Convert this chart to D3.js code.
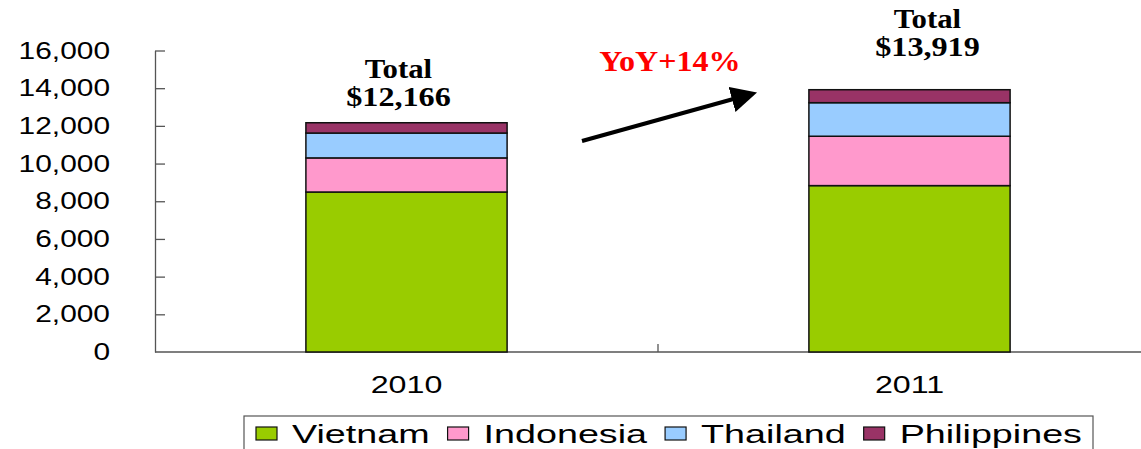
<!DOCTYPE html>
<html>
<head>
<meta charset="utf-8">
<script src="https://cdn.jsdelivr.net/npm/d3@7"></script>
<style>
  body { margin: 0; background: #fff; }
  svg { display: block; }
</style>
</head>
<body>
<div id="chart"></div>
<script>
const years = ["2010", "2011"];
const countries = ["Vietnam", "Indonesia", "Thailand", "Philippines"];
const vietnam = [8490, 8830];
const indonesia = [1810, 2620];
const thailand = [1320, 1780];
const philippines = [546, 689];
const totals = [12166, 13919];
const yTicks = [0, 2000, 4000, 6000, 8000, 10000, 12000, 14000, 16000];
const growthLabel = "YoY+14%";

const colors = ["#99CC00", "#FF99CC", "#99CCFF", "#993366"];

const W = 1141, H = 449;
const svg = d3.select("#chart").append("svg")
    .attr("width", W)
    .attr("height", H);

// rows for the stack
const rows = years.map((y, i) => ({
    year: y,
    Vietnam: vietnam[i],
    Indonesia: indonesia[i],
    Thailand: thailand[i],
    Philippines: philippines[i]
}));
const series = d3.stack().keys(countries)(rows);

// Scales
const x = d3.scaleBand()
    .domain(years)
    .range([155, 1161])
    .paddingInner(0.6)
    .paddingOuter(0.3);

const y = d3.scaleLinear()
    .domain([0, 16000])
    .range([352, 50.5]);

// text with horizontal stretch (the original picture is widened)
function wideText(parent, px, py, str, opts) {
    const g = parent.append("g")
        .attr("transform", `translate(${px},${py}) scale(${opts.sx},1)`);
    const t = g.append("text")
        .attr("text-anchor", opts.anchor || "start")
        .style("font-family", opts.family)
        .style("font-size", opts.size + "px")
        .style("font-weight", opts.weight || "normal")
        .attr("fill", opts.fill || "#000")
        .text(str);
    return t;
}

const sansFont = "Liberation Sans, Arial, sans-serif";
const serifFont = "Liberation Serif, Times New Roman, serif";

// Y axis
const yAxis = svg.append("g")
    .attr("transform", "translate(155,0)")
    .call(d3.axisRight(y).tickValues(yTicks).tickSize(10).tickSizeOuter(0).tickFormat(""));
yAxis.selectAll("path, line").attr("stroke", "#555").attr("stroke-width", 1.3);
yAxis.selectAll(".tick").filter(d => d === 0).remove();

yTicks.forEach(v => {
    wideText(svg, 110, y(v) + 8, d3.format(",")(v), {
        sx: 1.3, size: 23, family: sansFont, anchor: "end"
    });
});

// X axis line and middle tick
svg.append("line")
    .attr("x1", 155).attr("x2", W)
    .attr("y1", y(0)).attr("y2", y(0))
    .attr("stroke", "#555").attr("stroke-width", 1.3);
svg.append("line")
    .attr("x1", x.step() + 155).attr("x2", x.step() + 155)
    .attr("y1", y(0) - 8).attr("y2", y(0))
    .attr("stroke", "#555").attr("stroke-width", 1.3);

years.forEach(yr => {
    wideText(svg, x(yr) + x.bandwidth() / 2, 393, yr, {
        sx: 1.4, size: 23, family: sansFont, anchor: "middle"
    });
});

// Bars
const layers = svg.append("g").selectAll("g")
    .data(series)
    .join("g")
    .attr("fill", (d, i) => colors[i]);

layers.selectAll("rect")
    .data(d => d)
    .join("rect")
    .attr("x", d => x(d.data.year))
    .attr("y", d => y(d[1]))
    .attr("width", x.bandwidth())
    .attr("height", d => y(d[0]) - y(d[1]))
    .attr("stroke", "#111")
    .attr("stroke-width", 1.5);

// Total labels
const labelShift = [-8, 18];
const labelTop = [78, 28];
years.forEach((yr, i) => {
    const cx = x(yr) + x.bandwidth() / 2 + labelShift[i];
    wideText(svg, cx, labelTop[i], "Total", {
        sx: 1.1, size: 28, family: serifFont, weight: "bold", anchor: "middle"
    });
    wideText(svg, cx, labelTop[i] + 28, "$" + d3.format(",")(totals[i]), {
        sx: 1.15, size: 28, family: serifFont, weight: "bold", anchor: "middle"
    });
});

// YoY annotation
wideText(svg, 670, 71, growthLabel, {
    sx: 1.07, size: 30, family: serifFont, weight: "bold", anchor: "middle", fill: "#FF0000"
});

const defs = svg.append("defs");
defs.append("marker")
    .attr("id", "arrowHead")
    .attr("viewBox", "0 0 10 10")
    .attr("refX", 2).attr("refY", 5)
    .attr("markerWidth", 6.5).attr("markerHeight", 6.5)
    .attr("orient", "auto")
    .attr("markerUnits", "strokeWidth")
    .append("path")
    .attr("d", "M0,0 L10,5 L0,10 Z")
    .attr("fill", "#000");

svg.append("line")
    .attr("x1", 582).attr("y1", 141)
    .attr("x2", 737).attr("y2", 98)
    .attr("stroke", "#000")
    .attr("stroke-width", 4)
    .attr("marker-end", "url(#arrowHead)");

// Legend
const legend = svg.append("g");
legend.append("rect")
    .attr("x", 244).attr("y", 416)
    .attr("width", 849).attr("height", 60)
    .attr("fill", "#fff")
    .attr("stroke", "#555")
    .attr("stroke-width", 1.2);

let lx = 256;
countries.forEach((c, i) => {
    legend.append("rect")
        .attr("x", lx).attr("y", 427)
        .attr("width", 21).attr("height", 13)
        .attr("fill", colors[i])
        .attr("stroke", "#111")
        .attr("stroke-width", 1.2);
    const sx = 1.45;
    const t = wideText(legend, lx + 36, 443, c, {
        sx: sx, size: 26, family: sansFont
    });
    lx += 36 + t.node().getComputedTextLength() * sx + 18;
});
</script>
</body>
</html>
